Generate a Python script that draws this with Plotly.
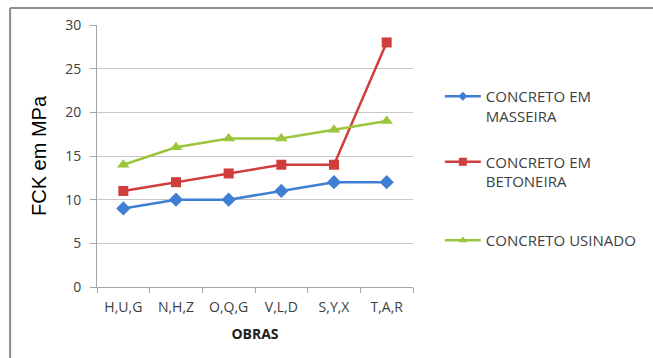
import plotly.graph_objects as go

obras = ["H,U,G", "N,H,Z", "O,Q,G", "V,L,D", "S,Y,X", "T,A,R"]
masseira = [9, 10, 10, 11, 12, 12]
betoneira = [11, 12, 13, 14, 14, 28]
usinado = [14, 16, 17, 17, 18, 19]

blue = "#3f7fd3"
red = "#d03d3d"
green = "#9cc53e"
FONT = "Open Sans"

series = [
    ("CONCRETO EM<br>MASSEIRA", masseira, blue, "diamond", 11, 7, "legend", 0.79),
    ("CONCRETO EM<br>BETONEIRA", betoneira, red, "square", 10, 8, "legend2", 0.54),
    ("CONCRETO USINADO", usinado, green, "triangle-up", 11, 8, "legend3", 0.24),
]

fig = go.Figure()
for name, vals, col, sym, sz, lsz, lg, ly in series:
    fig.add_trace(go.Scatter(
        x=obras, y=vals, name=name, mode="lines+markers",
        line=dict(color=col, width=2.5),
        marker=dict(symbol=sym, size=sz, color=col),
        showlegend=False,
    ))
    # legend entry with a smaller key marker
    fig.add_trace(go.Scatter(
        x=[None], y=[None], name=name, mode="lines+markers",
        line=dict(color=col, width=2.5),
        marker=dict(symbol=sym, size=lsz, color=col),
        legend=lg,
    ))

legend_common = dict(
    x=1.085, xanchor="left", yanchor="top", valign="top",
    font=dict(family=FONT, size=15, color="#404040"),
    bgcolor="rgba(0,0,0,0)", itemwidth=36,
)
layout_legends = {}
for name, vals, col, sym, sz, lsz, lg, ly in series:
    layout_legends[lg] = dict(legend_common, y=ly)

fig.update_layout(
    width=653, height=358,
    margin=dict(l=97, r=235, t=25, b=71),
    paper_bgcolor="white", plot_bgcolor="white",
    font=dict(family=FONT, color="#404040", size=12),
    showlegend=True,
    xaxis=dict(
        showgrid=False, showline=True, linecolor="#a6a6a6", linewidth=1,
        ticks="outside", ticklen=5, tickcolor="#a6a6a6",
        tickson="boundaries", ticklabelstandoff=7,
        tickfont=dict(family=FONT, size=14, color="#404040"),
        title=dict(text="<b>OBRAS</b>", font=dict(family=FONT, size=14, color="#202020"), standoff=14),
        range=[-0.5, 5.5],
    ),
    yaxis=dict(
        range=[0, 30], dtick=5, showgrid=True, gridcolor="#c8c8c8", gridwidth=1,
        showline=True, linecolor="#a6a6a6", linewidth=1,
        ticks="outside", ticklen=6, tickcolor="#a6a6a6", ticklabelstandoff=6,
        tickfont=dict(family=FONT, size=14, color="#404040"),
        title=dict(text="FCK em MPa", font=dict(family="Liberation Sans", size=20, color="#000000"), standoff=13),
        zeroline=False,
    ),
    **layout_legends,
)

# outer frame (top and left edges)
fig.add_shape(type="line", xref="paper", yref="paper", x0=-0.275, x1=1.8, y0=1.065, y1=1.065,
              line=dict(color="#8c8c8c", width=2))
fig.add_shape(type="line", xref="paper", yref="paper", x0=-0.275, x1=-0.275, y0=-0.4, y1=1.065,
              line=dict(color="#8c8c8c", width=2))

fig.write_html("out.html")
